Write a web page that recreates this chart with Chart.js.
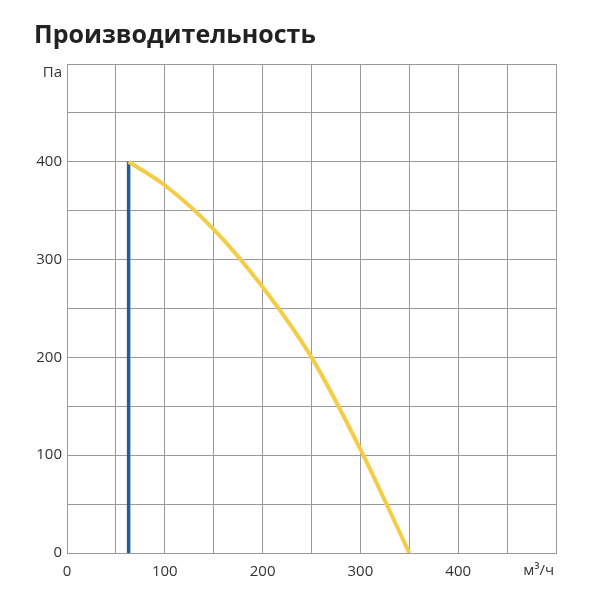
<!DOCTYPE html>
<html>
<head>
<meta charset="utf-8">
<script src="https://cdn.jsdelivr.net/npm/chart.js@4/dist/chart.umd.min.js"></script>
<style>
html,body{margin:0;padding:0;background:#fff;}
#wrap{width:600px;height:600px;}
</style>
</head>
<body>
<div id="wrap"><canvas id="c" width="600" height="600"></canvas></div>
<script>
const titleText = "Производительность";
const yUnit = "Па";
const xUnit = "м³/ч";
const xTickLabels = [0, 100, 200, 300, 400];
const yTickLabels = [0, 100, 200, 300, 400];
const curveFlow = [63, 100, 150, 200, 250, 300, 350];
const curvePressure = [400, 376, 331, 272, 200, 106, 0];
const limitFlow = [63, 63];
const limitPressure = [0, 400];

const toPoints = (xs, ys) => xs.map((x, i) => ({x: x, y: ys[i]}));

const unitPlugin = {
  id: 'units',
  afterDraw(chart) {
    const ctx = chart.ctx;
    const ys = chart.scales.y;
    ctx.save();
    ctx.fillStyle = '#333';
    ctx.font = '15px "Open Sans"';
    ctx.textAlign = 'right';
    ctx.textBaseline = 'middle';
    ctx.fillText(yUnit, chart.chartArea.left - 5, ys.getPixelForValue(500) + 9);
    ctx.fillText(xUnit, chart.chartArea.right - 2, chart.chartArea.bottom + 18);
    ctx.restore();
  }
};

new Chart(document.getElementById('c'), {
  type: 'scatter',
  data: {
    datasets: [
      {
        data: toPoints(curveFlow, curvePressure),
        showLine: true,
        borderColor: '#f5cc45',
        borderWidth: 4,
        pointRadius: 0,
        cubicInterpolationMode: 'monotone',
        fill: false
      },
      {
        data: toPoints(limitFlow, limitPressure),
        showLine: true,
        borderColor: '#1d5e9c',
        borderWidth: 3.5,
        pointRadius: 0,
        fill: false
      }
    ]
  },
  options: {
    responsive: false,
    animation: false,
    devicePixelRatio: 1,
    layout: { padding: { left: 34, right: 44, top: 0, bottom: 0 } },
    plugins: {
      legend: { display: false },
      tooltip: { enabled: false },
      title: {
        display: true,
        text: titleText,
        align: 'start',
        color: '#222',
        font: { family: '"Open Sans"', size: 25, weight: 'bold', lineHeight: 1.2 },
        padding: { top: 21, bottom: 13 }
      }
    },
    scales: {
      x: {
        type: 'linear',
        min: 0, max: 500,
        grid: { color: '#9a9a9a', lineWidth: 1, drawTicks: false },
        border: { color: '#9a9a9a', width: 1 },
        ticks: {
          stepSize: 50,
          padding: 10,
          maxRotation: 0,
          autoSkip: false,
          color: '#333',
          font: { family: '"Open Sans"', size: 15 },
          callback: (v) => xTickLabels.includes(v) ? String(v) : ''
        },
        afterFit: (s) => { s.height = 47; }
      },
      y: {
        type: 'linear',
        min: 0, max: 500,
        grid: { color: '#9a9a9a', lineWidth: 1, drawTicks: false },
        border: { color: '#9a9a9a', width: 1 },
        ticks: {
          stepSize: 50,
          padding: 5,
          autoSkip: false,
          color: '#333',
          font: { family: '"Open Sans"', size: 15 },
          callback: (v) => yTickLabels.includes(v) ? String(v) : ''
        },
        afterFit: (s) => { s.width = 33; }
      }
    }
  },
  plugins: [unitPlugin]
});
</script>
</body>
</html>
